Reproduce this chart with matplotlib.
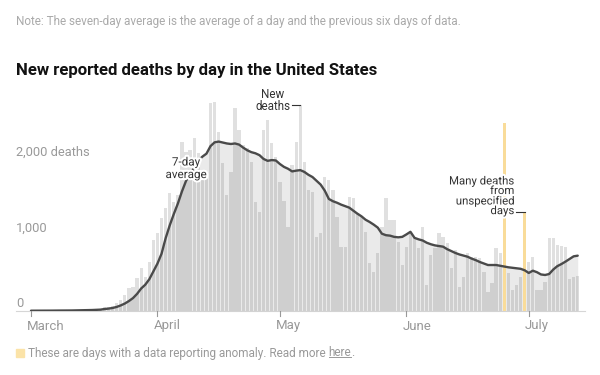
import numpy as np
import pandas as pd
import matplotlib
matplotlib.use("Agg")
import matplotlib.pyplot as plt
import matplotlib.patheffects as pe
from matplotlib import font_manager

# ---------------- data ----------------
dates = pd.date_range("2020-03-01", "2020-07-13", freq="D")

deaths = [
    1, 4, 3, 2, 1, 3, 3, 4, 1, 6,
    8, 4, 7, 9, 9, 22, 23, 10, 50, 45,
    60, 100, 140, 208, 296, 318, 438, 561, 450, 649,
    936, 1025, 1224, 1356, 1554, 1444, 1532, 2239, 2106, 2128,
    2283, 2084, 1800, 1753, 2747, 2770, 2371, 1952, 1532, 1842,
    2680, 2393, 2195, 2150, 1974, 1444, 1312, 2393, 2525, 2217,
    2040, 1700, 1450, 1113, 1930, 2239, 2725, 1974, 1598, 1576,
    980, 1025, 1766, 1731, 1598, 1245, 848, 848, 1510, 1488,
    1289, 1245, 1047, 627, 517, 760, 1113, 1488, 1201, 1201,
    914, 605, 848, 1025, 980, 826, 1113, 340, 738, 826,
    1025, 980, 892, 561, 804, 318, 451, 760, 715, 715,
    693, 517, 252, 362, 826, 760, 2482, 504, 274, 340,
    451, 1311, 649, 715, 274, 274, 384, 958, 958, 870,
    860, 840, 420, 440, 460,
]

avg7 = [
    0, 0, 1, 1, 1, 1, 2, 2, 2, 3,
    3, 4, 5, 5, 6, 9, 12, 14, 22, 28,
    36, 50, 70, 95, 128, 167, 223, 294, 344, 417,
    521, 625, 755, 960, 1130, 1280, 1420, 1580, 1720, 1810,
    1890, 1990, 2040, 2080, 2180, 2230, 2240, 2228, 2215, 2208,
    2215, 2200, 2160, 2125, 2100, 2085, 2060, 2010, 1985, 1995,
    1990, 1943, 1905, 1880, 1845, 1855, 1862, 1838, 1800, 1770,
    1720, 1670, 1590, 1480, 1450, 1430, 1405, 1385, 1365, 1325,
    1285, 1250, 1205, 1175, 1140, 1100, 1020, 1000, 994, 978,
    972, 978, 1010, 1045, 965, 945, 930, 900, 880, 865,
    856, 848, 815, 790, 765, 745, 730, 715, 690, 670,
    645, 625, 605, 605, 605, 595, 585, 575, 568, 561,
    555, 535, 500, 530, 510, 480, 473, 486, 545, 590,
    618, 650, 685, 720, 729,
]

anomaly_dates = ["2020-06-25", "2020-06-30"]
new_deaths_date = "2020-05-06"

month_ticks = ["2020-03-01", "2020-04-01", "2020-05-01", "2020-06-01", "2020-07-01"]
month_labels = ["March", "April", "May", "June", "July"]

y_ticks = [0, 1000, 2000]
y_labels = ["0", "1,000", "2,000 deaths"]

note = "Note: The seven-day average is the average of a day and the previous six days of data."
title = "New reported deaths by day in the United States"
legend_text = "These are days with a data reporting anomaly. Read more "

# ---------------- fonts ----------------
names = {f.name for f in font_manager.fontManager.ttflist}
FONT = "Liberation Sans Narrow" if "Liberation Sans Narrow" in names else "Roboto"
plt.rcParams["font.family"] = [FONT, "DejaVu Sans"]

# ---------------- figure ----------------
W, H = 600, 375
fig = plt.figure(figsize=(W / 100, H / 100), dpi=100)
fig.patch.set_facecolor("white")

px_day = 4.08
x0_px, base_px, top_px, right_px = 16, 310.7, 95, 585
ax = fig.add_axes([x0_px / W, (H - base_px) / H, (right_px - x0_px) / W, (base_px - top_px) / H])
xmin = (x0_px - 31) / px_day
xmax = (right_px - 31) / px_day
ymax = (base_px - top_px) / 0.0755
ax.set_xlim(xmin, xmax)
ax.set_ylim(0, ymax)
ax.axis("off")

day = np.array((dates - dates[0]).days, dtype=float)
deaths = np.array(deaths, dtype=float)
avg7 = np.array(avg7, dtype=float)
anom_idx = [int((pd.Timestamp(d) - dates[0]).days) for d in anomaly_dates]
normal = np.ones(len(day), bool)
normal[anom_idx] = False

bar_w = 0.8
ax.bar(day[normal], deaths[normal], width=bar_w, color="#e0e0e0", linewidth=0, zorder=2)
ax.fill_between(day, 0, avg7, color="#6e6e6e", alpha=0.14, linewidth=0, zorder=3)
ax.bar(day[anom_idx], deaths[anom_idx], width=bar_w, color="#f9dc9a", linewidth=0, zorder=4)
ax.plot(day, avg7, color="#4a4a4a", lw=1.7, zorder=5, solid_capstyle="round")

# baseline
ax.plot([xmin, xmax], [0, 0], color="#d6d6d6", lw=0.8, zorder=1, clip_on=False)

# month ticks & labels
for d, lab in zip(month_ticks, month_labels):
    xd = (pd.Timestamp(d) - dates[0]).days
    ax.plot([xd, xd], [0, -5 / 0.0755], color="#999999", lw=0.8, clip_on=False, zorder=1)
    ax.text(xd - 4 / px_day, -(326 - base_px) / 0.0755, lab, ha="left", va="center",
            fontsize=9.5, color="#999999")

# y labels
for v, lab in zip(y_ticks, y_labels):
    ax.text(xmin, v + 7.4 / 0.0755, lab, ha="left", va="center", fontsize=9.3, color="#999999", zorder=6)

halo = [pe.withStroke(linewidth=3, foreground="white")]
# annotations
ax.text((186 - 31) / px_day, (310.7 - 168.3) / 0.0755, "7-day\naverage", ha="center", va="center",
        fontsize=8.4, color="#333333", linespacing=0.95, zorder=7, path_effects=halo)
ax.text((273 - 31) / px_day, (310.7 - 100.6) / 0.0755, "New\ndeaths", ha="center", va="center",
        fontsize=8.4, color="#333333", linespacing=0.95, zorder=7, clip_on=False)
tall = int((pd.Timestamp(new_deaths_date) - dates[0]).days)
ax.plot([(291.7 - 31) / px_day, day[tall]], [deaths[tall], deaths[tall]], color="#333333", lw=0.8, zorder=7)

ax.text((514.3 - 31) / px_day, (310.7 - 196.3) / 0.0755, "Many deaths\nfrom\nunspecified\ndays",
        ha="right", va="center", fontsize=8.2, color="#333333", linespacing=0.95, zorder=7,
        path_effects=halo)
a2 = anom_idx[1]
ax.plot([(516 - 31) / px_day, day[a2]], [deaths[a2], deaths[a2]], color="#333333", lw=0.8, zorder=7)

# texts above
fig.text(16 / W, 1 - 22 / H, note, ha="left", va="center", fontsize=8.45, color="#aaaaaa")
fig.text(16 / W, 1 - 71 / H, title, ha="left", va="center", fontsize=12.1, fontweight="bold", color="#121212")

# legend
ly = 1 - 353 / H
fig.patches.append(plt.Rectangle((16 / W, ly - 4 / H), 8 / W, 8 / H, transform=fig.transFigure,
                                 color="#fbe3a8", figure=fig))
LFS = 8.5
t1 = fig.text(28 / W, ly, legend_text, ha="left", va="center", fontsize=LFS, color="#999999")
fig.canvas.draw()
r = fig.canvas.get_renderer()
bb1 = t1.get_window_extent(r)
t2 = fig.text(bb1.x1 / W, ly, "here", ha="left", va="center", fontsize=LFS, color="#999999")
fig.canvas.draw()
bb2 = t2.get_window_extent(r)
fig.text(bb2.x1 / W, ly, ".", ha="left", va="center", fontsize=LFS, color="#999999")
uy = (bb2.y0 + 2.5) / H
fig.add_artist(plt.Line2D([bb2.x0 / W, bb2.x1 / W], [uy, uy], transform=fig.transFigure,
                          color="#999999", lw=0.7))

fig.savefig("out.png", dpi=100, facecolor="white")
